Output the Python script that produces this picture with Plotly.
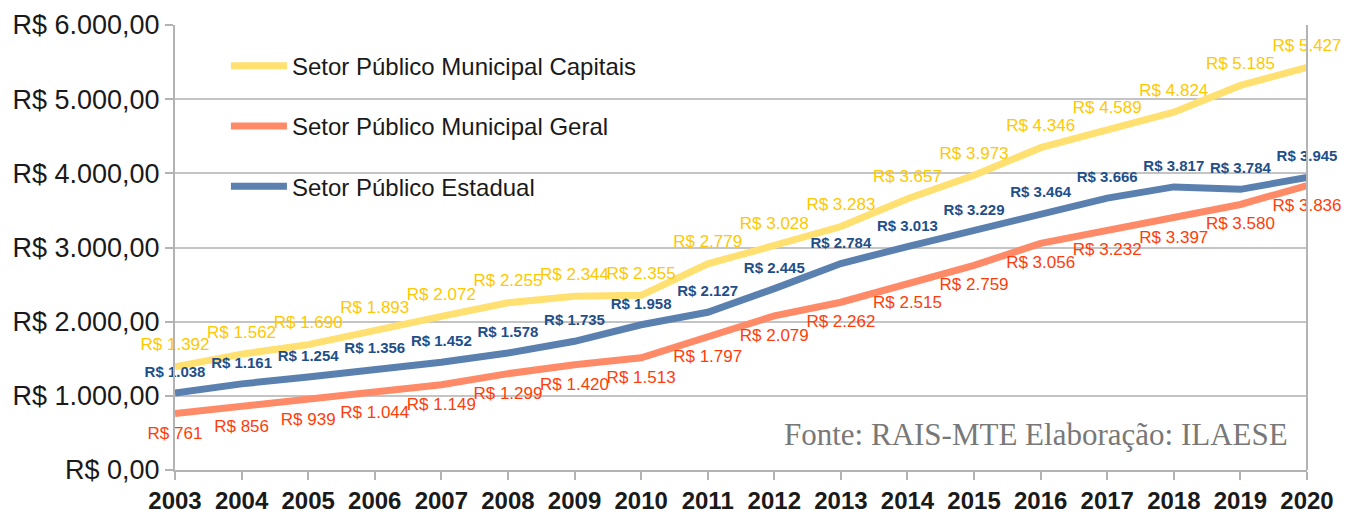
import plotly.graph_objects as go

years = list(range(2003, 2021))
capitais = [1392, 1562, 1690, 1893, 2072, 2255, 2344, 2355, 2779, 3028, 3283, 3657, 3973, 4346, 4589, 4824, 5185, 5427]
geral = [761, 856, 939, 1044, 1149, 1299, 1420, 1513, 1797, 2079, 2262, 2515, 2759, 3056, 3232, 3397, 3580, 3836]
estadual = [1038, 1161, 1254, 1356, 1452, 1578, 1735, 1958, 2127, 2445, 2784, 3013, 3229, 3464, 3666, 3817, 3784, 3945]

names = ["Setor Público Municipal Capitais", "Setor Público Municipal Geral", "Setor Público Estadual"]
ytickvals = [0, 1000, 2000, 3000, 4000, 5000, 6000]
yticktext = ["R$ 0,00", "R$ 1.000,00", "R$ 2.000,00", "R$ 3.000,00", "R$ 4.000,00", "R$ 5.000,00", "R$ 6.000,00"]


def fmt(v):
    return "R$ " + f"{v:,}".replace(",", ".")


series = [
    (names[0], capitais, "#ffe070", "#ffc800", "top center", 17, "normal"),
    (names[1], geral, "#ff8a68", "#ff3d0a", "bottom center", 17, "normal"),
    (names[2], estadual, "#5a80b0", "#1f4f8a", "top center", 15, "bold"),
]

fig = go.Figure()
for i, (nm, vals, lc, tc, tp, fs, fw) in enumerate(series):
    fig.add_trace(go.Scatter(
        x=years, y=vals, name=nm, mode="lines+markers+text",
        line=dict(color=lc, width=7),
        marker=dict(size=18, color="rgba(0,0,0,0)", line=dict(width=0)),
        text=[fmt(v) for v in vals], textposition=tp,
        textfont=dict(color=tc, size=fs, family="Liberation Sans", weight=fw),
        cliponaxis=False, legendgroup=f"g{i}",
    ))

fig.update_layout(
    width=1347, height=516,
    margin=dict(l=175, r=40, t=25, b=46),
    plot_bgcolor="white", paper_bgcolor="white",
    font=dict(family="Liberation Sans", color="#1a1a1a"),
    showlegend=True,
    legend=dict(
        x=0.045, y=0.958, xanchor="left", yanchor="top",
        bgcolor="rgba(0,0,0,0)", font=dict(size=24, color="#1a1a1a"),
        traceorder="grouped", tracegroupgap=26, itemwidth=56,
    ),
    xaxis=dict(
        range=[2003, 2020], tickmode="array", tickvals=years,
        ticktext=[str(y) for y in years], automargin=False,
        showgrid=False, showline=True, linecolor="#b3b3b3", linewidth=2,
        ticks="outside", ticklen=8, tickcolor="#b3b3b3", tickwidth=1.5,
        tickfont=dict(size=24, weight="bold", color="#1a1a1a"),
        mirror=False, zeroline=False,
    ),
    yaxis=dict(
        range=[0, 6000], tickmode="array", tickvals=ytickvals, ticktext=yticktext,
        automargin=False,
        showgrid=True, gridcolor="#c4c4c4", gridwidth=2,
        showline=True, linecolor="#b3b3b3", linewidth=2,
        ticks="outside", ticklen=8, tickcolor="#b3b3b3", tickwidth=1.5,
        tickfont=dict(size=27, color="#1a1a1a"), zeroline=False,
    ),
    shapes=[
        dict(type="line", xref="paper", yref="paper", x0=1, x1=1, y0=0, y1=1,
             line=dict(color="#b3b3b3", width=2)),
        dict(type="rect", xref="x", yref="y", x0=2003.49, x1=2008.81, y0=3930, y1=4070,
             fillcolor="white", line=dict(width=0), layer="below"),
    ],
    annotations=[
        dict(text="Fonte: RAIS-MTE Elaboração: ILAESE", xref="paper", yref="paper",
             x=0.985, y=0.079, xanchor="right", yanchor="middle", showarrow=False,
             font=dict(family="Liberation Serif", size=31, color="#787878")),
    ],
)

fig.write_html("out.html", config={"displayModeBar": False},
               post_script="document.body.style.margin='0';")
